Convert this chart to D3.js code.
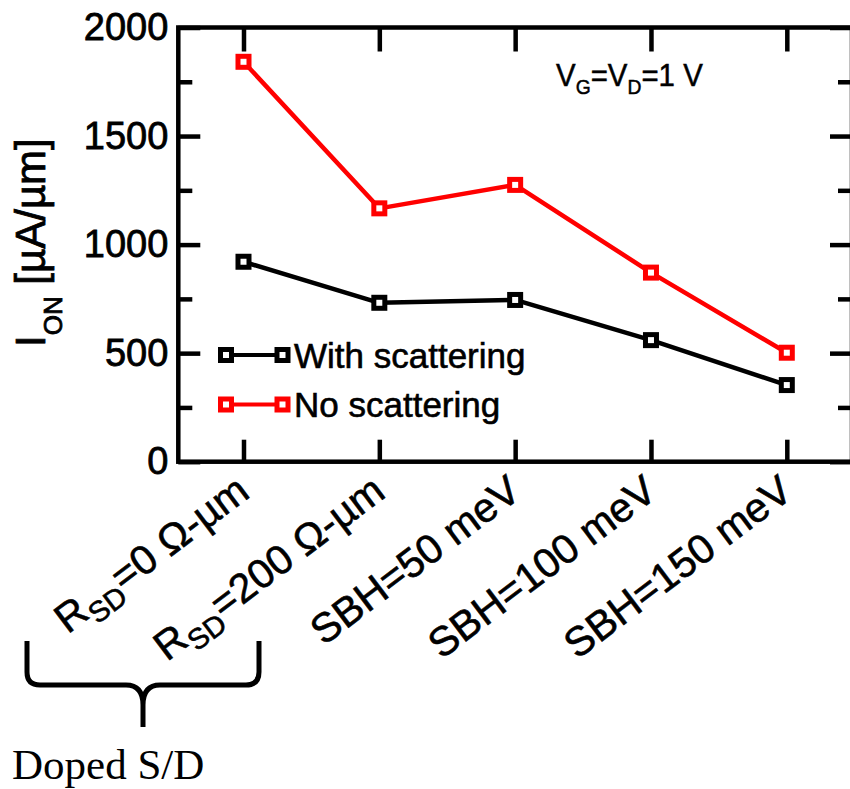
<!DOCTYPE html>
<html>
<head>
<meta charset="utf-8">
<script src="https://cdn.jsdelivr.net/npm/d3@7"></script>
<style>
  html, body { margin: 0; padding: 0; background: #fff; }
  svg { display: block; }
  text { font-family: "Liberation Sans", Arial, Helvetica, sans-serif; fill: #000; }
  text.serif { font-family: "Liberation Serif", "Times New Roman", serif; }
</style>
</head>
<body>
<svg id="chart" width="850" height="789"></svg>
<script>
// Contact configurations along the x axis (main part, subscript, rest)
const categories = [
  ["R", "SD", "=0 Ω-µm"],
  ["R", "SD", "=200 Ω-µm"],
  ["SBH=50 meV", "", ""],
  ["SBH=100 meV", "", ""],
  ["SBH=150 meV", "", ""]
];
// On-current I_ON in µA/µm
const withScattering = [921, 732, 745, 560, 353];
const noScattering = [1842, 1167, 1275, 871, 502];
const yMajorTicks = [0, 500, 1000, 1500, 2000];
const yMinorTicks = [250, 750, 1250, 1750];
const seriesNames = ["With scattering", "No scattering"];
const seriesColors = ["#000000", "#ff0000"];

const svg = d3.select("#chart");
const plotLeft = 178.3, plotRight = 852, plotTop = 27.5, plotBottom = 461.7;

const idx = categories.map((d, i) => i + 1);
const x = d3.scaleLinear().domain([0.52, 5.48]).range([plotLeft, plotRight]);
const y = d3.scaleLinear().domain([0, 2000]).range([plotBottom, plotTop]);

const AXW = 4.5;

function styleAxis(g) {
  g.select(".domain").remove();
  g.selectAll(".tick line").attr("stroke", "#000").attr("stroke-width", AXW);
}

// Left axis with labels, major ticks pointing inward
svg.append("g")
  .attr("transform", `translate(${plotLeft},0)`)
  .call(d3.axisLeft(y).tickValues(yMajorTicks).tickSizeInner(-22).tickSizeOuter(0)
        .tickPadding(10).tickFormat(d3.format("d")))
  .call(styleAxis)
  .call(g => g.selectAll(".tick text")
    .attr("font-size", 38)
    .attr("fill", "#000")
    .attr("stroke", "#000").attr("stroke-width", 0.8));

svg.append("g")
  .attr("transform", `translate(${plotLeft},0)`)
  .call(d3.axisLeft(y).tickValues(yMinorTicks).tickSizeInner(-14).tickSizeOuter(0).tickFormat(""))
  .call(styleAxis);

// Right axis (ticks only)
svg.append("g")
  .attr("transform", `translate(${plotRight},0)`)
  .call(d3.axisRight(y).tickValues(yMajorTicks).tickSizeInner(-22).tickSizeOuter(0).tickFormat(""))
  .call(styleAxis);
svg.append("g")
  .attr("transform", `translate(${plotRight},0)`)
  .call(d3.axisRight(y).tickValues(yMinorTicks).tickSizeInner(-14).tickSizeOuter(0).tickFormat(""))
  .call(styleAxis);

// Top and bottom axes (ticks only)
svg.append("g")
  .attr("transform", `translate(0,${plotTop})`)
  .call(d3.axisTop(x).tickValues(idx).tickSizeInner(-24).tickSizeOuter(0).tickFormat(""))
  .call(styleAxis);
svg.append("g")
  .attr("transform", `translate(0,${plotBottom})`)
  .call(d3.axisBottom(x).tickValues(idx).tickSizeInner(-22).tickSizeOuter(0).tickFormat(""))
  .call(styleAxis);

// Frame
svg.append("rect")
  .attr("x", plotLeft).attr("y", plotTop)
  .attr("width", plotRight - plotLeft).attr("height", plotBottom - plotTop)
  .attr("fill", "none").attr("stroke", "#000").attr("stroke-width", AXW);

// Rotated category labels
categories.forEach((c, i) => {
  const t = svg.append("text")
    .attr("transform", `translate(${x(i + 1) + 8},496) rotate(-37)`)
    .attr("text-anchor", "end")
    .attr("font-size", 41)
    .attr("stroke", "#000").attr("stroke-width", 0.6);
  t.append("tspan").text(c[0]);
  if (c[1]) {
    t.append("tspan").attr("font-size", 29).attr("dy", 10).text(c[1]);
    t.append("tspan").attr("dy", -10).text(c[2]);
  }
});

// Y axis title
const yt = svg.append("text")
  .attr("transform", "translate(45,347) rotate(-90)")
  .attr("text-anchor", "start")
  .attr("font-size", 42)
  .attr("stroke", "#000").attr("stroke-width", 0.8);
yt.append("tspan").text("I");
yt.append("tspan").attr("font-size", 26).attr("dy", 17).text("ON");
yt.append("tspan").attr("dy", -17).text(" [µA/µm]");

// Bias annotation
const ann = svg.append("text")
  .attr("transform", "translate(556,86) scale(0.92,1)")
  .attr("font-size", 32)
  .attr("stroke", "#000").attr("stroke-width", 0.5);
ann.append("tspan").text("V");
ann.append("tspan").attr("font-size", 21).attr("dy", 8).text("G");
ann.append("tspan").attr("dy", -8).text("=V");
ann.append("tspan").attr("font-size", 21).attr("dy", 8).text("D");
ann.append("tspan").attr("dy", -8).text("=1 V");

// Series lines and markers
const line = d3.line().x((d, i) => x(i + 1)).y(d => y(d));
const series = [withScattering, noScattering];
series.forEach((vals, s) => {
  svg.append("path")
    .datum(vals)
    .attr("d", line)
    .attr("fill", "none")
    .attr("stroke", seriesColors[s])
    .attr("stroke-width", 4.5)
    .attr("stroke-linejoin", "round");
  svg.append("g").selectAll("rect")
    .data(vals)
    .join("rect")
    .attr("x", (d, i) => x(i + 1) - 5.5)
    .attr("y", d => y(d) - 5.5)
    .attr("width", 11).attr("height", 11)
    .attr("fill", "#fff")
    .attr("stroke", seriesColors[s])
    .attr("stroke-width", 5);
});

// Legend
const legendY = [355, 404.5];
seriesNames.forEach((name, s) => {
  const g = svg.append("g").attr("transform", `translate(0,${legendY[s]})`);
  g.append("line").attr("x1", 226).attr("x2", 282.5).attr("y1", 0).attr("y2", 0)
    .attr("stroke", seriesColors[s]).attr("stroke-width", 4);
  [226, 282.5].forEach(cx => {
    g.append("rect").attr("x", cx - 5.5).attr("y", -5.5).attr("width", 11).attr("height", 11)
      .attr("fill", "#fff").attr("stroke", seriesColors[s]).attr("stroke-width", 5);
  });
  g.append("text").attr("x", 294).attr("y", 12.5)
    .attr("font-size", 35)
    .attr("stroke", "#000").attr("stroke-width", 0.6)
    .text(name);
});

// Brace grouping the doped source/drain cases
svg.append("path")
  .attr("d", "M27,641 V672 Q27,685 40,685 H126 Q143,685 143,705 V727 M143,705 Q143,685 160,685 H246 Q259,685 259,672 V641")
  .attr("fill", "none").attr("stroke", "#000").attr("stroke-width", 5);

svg.append("text")
  .attr("class", "serif")
  .attr("x", 12).attr("y", 779)
  .attr("font-size", 43)
  .text("Doped S/D");
</script>
</body>
</html>
